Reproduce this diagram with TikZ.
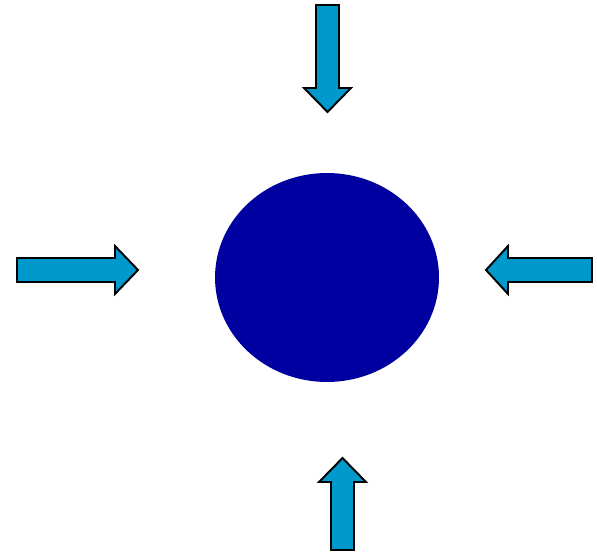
\documentclass[tikz,border=0pt]{standalone}
\usetikzlibrary{shapes.geometric}
\definecolor{ballblue}{HTML}{0000A0}
\definecolor{pushblue}{HTML}{0099CC}
\tikzset{
    ball/.style={ellipse, fill=ballblue, inner sep=0pt,
        minimum width=4.48cm, minimum height=4.18cm},
    pusharrow/.style={draw=black, fill=pushblue, line width=1.1pt, line join=miter},
}

\begin{document}
\begin{tikzpicture}[x=0.02cm, y=-0.02cm]
    \useasboundingbox (0,0) rectangle (597,553);
    \node[ball] (ball) at (327,277.5) {};
    % arrows pushing in from the four sides
    \draw[pusharrow] (316,5) -- (339,5) -- (339,88) -- (351,88) -- (327.5,112) -- (304,88) -- (316,88) -- cycle;
    \draw[pusharrow] (17,258) -- (115,258) -- (115,246) -- (138,270) -- (115,294) -- (115,282) -- (17,282) -- cycle;
    \draw[pusharrow] (592,258) -- (508,258) -- (508,246) -- (486,270) -- (508,294) -- (508,282) -- (592,282) -- cycle;
    \draw[pusharrow] (331,550) -- (354,550) -- (354,482) -- (366,482) -- (342.5,458) -- (319,482) -- (331,482) -- cycle;
\end{tikzpicture}
\end{document}
